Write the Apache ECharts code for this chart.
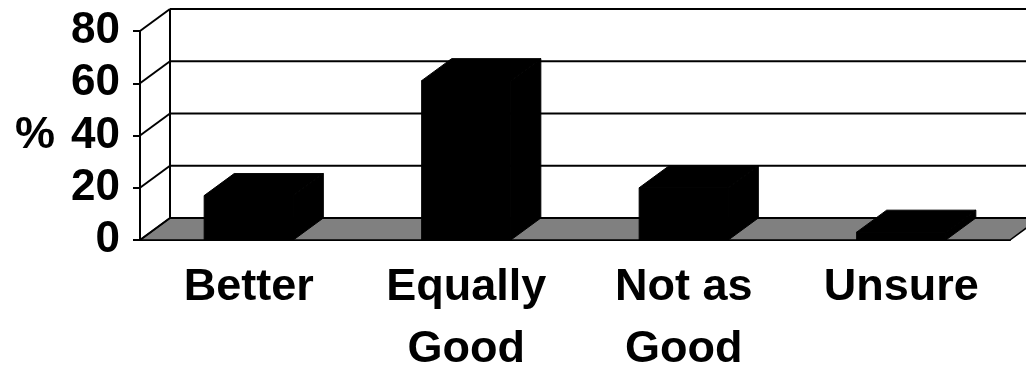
<!DOCTYPE html>
<html>
<head>
<meta charset="utf-8">
<script src="https://cdn.jsdelivr.net/npm/echarts@6/dist/echarts.min.js"></script>
<style>
  html, body { margin: 0; padding: 0; background: #fff; }
  #chart { width: 1026px; height: 368px; }
</style>
</head>
<body>
<div id="chart"></div>
<script>
// Survey answers, in percent
const categories = ['Better', 'Equally\nGood', 'Not as\nGood', 'Unsure'];
const values = [17, 61, 20, 3];
const yTicks = [0, 20, 40, 60, 80];

// Depth of the pseudo-3D box (pixels): back wall sits up and to the right
const DX = 30, DY = -22;
const FONT = 'Liberation Sans, Arial, sans-serif';
const BAR_RATIO = 0.41;

const chart = echarts.init(document.getElementById('chart'), null, { renderer: 'canvas' });

// Floor, back wall gridlines and the slanted tick connectors
function renderWall(params, api) {
  const cs = params.coordSys;
  const v = api.value(1);
  const y = api.coord([0, v])[1];
  const x0 = cs.x, x1 = cs.x + cs.width;
  const line = { stroke: '#000', lineWidth: 2 };
  const children = [];
  if (v === yTicks[0]) {
    children.push({
      type: 'polygon',
      shape: { points: [[x0, y], [x1, y], [x1 + DX, y + DY], [x0 + DX, y + DY]] },
      style: { fill: '#808080', stroke: '#000', lineWidth: 1.5 }
    });
    const yTop = api.coord([0, yTicks[yTicks.length - 1]])[1];
    children.push({
      type: 'line',
      shape: { x1: x0 + DX, y1: y + DY, x2: x0 + DX, y2: yTop + DY },
      style: line
    });
  }
  children.push({
    type: 'line',
    shape: { x1: x0, y1: y, x2: x0 + DX, y2: y + DY },
    style: line
  });
  children.push({
    type: 'line',
    shape: { x1: x0 + DX, y1: y + DY, x2: x1 + DX, y2: y + DY },
    style: line
  });
  return { type: 'group', children };
}

// Solid block columns: front face, top face and right side
function renderBar(params, api) {
  const idx = api.value(0);
  const base = api.coord([idx, 0]);
  const top = api.coord([idx, api.value(1)]);
  const hw = api.size([1, 0])[0] * BAR_RATIO / 2;
  const l = base[0] - hw, r = base[0] + hw;
  const ty = top[1], by = base[1];
  const st = { fill: '#000', stroke: '#000', lineWidth: 1 };
  return {
    type: 'group',
    children: [
      { type: 'polygon', shape: { points: [[r, ty], [r, by], [r + DX, by + DY], [r + DX, ty + DY]] }, style: st },
      { type: 'polygon', shape: { points: [[l, ty], [r, ty], [r + DX, ty + DY], [l + DX, ty + DY]] }, style: st },
      { type: 'rect', shape: { x: l, y: ty, width: r - l, height: by - ty }, style: st }
    ]
  };
}

const labelFont = { color: '#000', fontFamily: FONT, fontWeight: 'bold', fontSize: 45 };

chart.setOption({
  animation: false,
  backgroundColor: '#fff',
  grid: { left: 140, right: 16, top: 31, bottom: 128, containLabel: false, outerBoundsMode: 'none' },
  xAxis: {
    type: 'category',
    data: categories,
    axisLine: { lineStyle: { color: '#000', width: 2 } },
    axisTick: { length: 6, lineStyle: { color: '#000', width: 2 } },
    axisLabel: Object.assign({ interval: 0, margin: 17, lineHeight: 62 }, labelFont),
    splitLine: { show: false }
  },
  yAxis: {
    type: 'value',
    min: 0, max: 80, interval: 20,
    name: '%',
    nameLocation: 'middle',
    nameRotate: 0,
    nameGap: 85,
    nameTextStyle: Object.assign({}, labelFont),
    axisLine: { show: true, lineStyle: { color: '#000', width: 2 } },
    axisTick: { show: true, length: 7, lineStyle: { color: '#000', width: 2 } },
    axisLabel: Object.assign({ margin: 20 }, labelFont, { fontSize: 44 }),
    splitLine: { show: false }
  },
  series: [
    {
      type: 'custom',
      z: 1,
      silent: true,
      renderItem: renderWall,
      data: yTicks.map(v => [0, v])
    },
    {
      type: 'custom',
      z: 3,
      renderItem: renderBar,
      data: values.map((v, i) => [i, v])
    }
  ]
});
</script>
</body>
</html>
